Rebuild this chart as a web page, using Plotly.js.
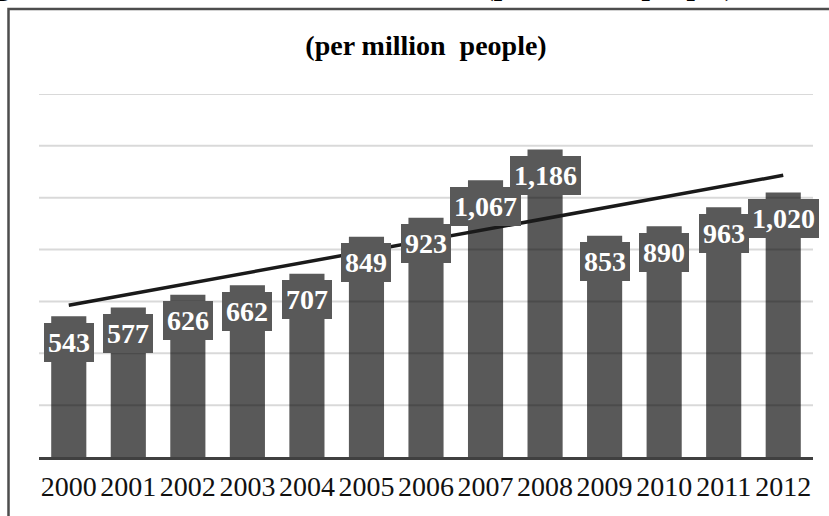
<!DOCTYPE html>
<html>
<head>
<meta charset="utf-8">
<script src="https://cdn.plot.ly/plotly-3.0.1.min.js"></script>
<style>
  html, body { margin: 0; padding: 0; background: #ffffff; }
  #chart { width: 829px; height: 516px; }
</style>
</head>
<body>
<div id="chart"></div>
<script>
// Researchers in R&D in China, per million people
const years = ['2000', '2001', '2002', '2003', '2004', '2005', '2006',
               '2007', '2008', '2009', '2010', '2011', '2012'];
const researchers = [543, 577, 626, 662, 707, 849, 923, 1067, 1186, 853, 890, 963, 1020];

const headerText = 'Figure 5: Researchers in R&D in China (per million people), 2000-2012';
const subTitle = '(per million\u00a0\u00a0people)';

const yMax = 1400;
const gridStep = 200;

// thousands separator for the value labels
function fmt(v) {
  return String(v).replace(/\B(?=(\d{3})+(?!\d))/g, ',');
}

// least-squares linear trend over the year index
function linearTrend(vals) {
  const n = vals.length;
  const mx = (n - 1) / 2;
  const my = vals.reduce((a, b) => a + b, 0) / n;
  let sxy = 0, sxx = 0;
  vals.forEach((v, i) => { sxy += (i - mx) * (v - my); sxx += (i - mx) * (i - mx); });
  const slope = sxy / sxx;
  return vals.map((_, i) => my + slope * (i - mx));
}
const trend = linearTrend(researchers);

const serif = '"Liberation Serif", "Times New Roman", serif';

const bars = {
  type: 'bar',
  x: years,
  y: researchers,
  marker: { color: '#595959', line: { width: 0 } },
  hoverinfo: 'x+y'
};

const trendLine = {
  type: 'scatter',
  mode: 'lines',
  x: years,
  y: trend,
  line: { color: '#1a1a1a', width: 3.5 },
  hoverinfo: 'skip'
};

// value boxes sit just under the top of each bar (x given as category index)
const valueLabels = years.map((yr, i) => ({
  x: i,
  y: researchers[i],
  xref: 'x',
  yref: 'y',
  text: '<b>' + fmt(researchers[i]) + '</b>',
  showarrow: false,
  yanchor: 'middle',
  xanchor: 'center',
  yshift: -26,
  bgcolor: '#595959',
  borderpad: 4,
  borderwidth: 0,
  font: { family: serif, size: 28, color: '#ffffff' }
}));

const header = {
  xref: 'paper', yref: 'paper',
  x: 0.4987, y: 1.248,
  xanchor: 'center', yanchor: 'bottom',
  text: '<b>' + headerText + '</b>',
  showarrow: false,
  font: { family: serif, size: 30, color: '#000000' }
};

// translucent horizontal gridlines drawn over the bars
const gridShapes = [];
for (let v = gridStep; v <= yMax; v += gridStep) {
  gridShapes.push({
    type: 'line',
    xref: 'paper', yref: 'y',
    x0: 0, x1: 1, y0: v, y1: v,
    line: { color: 'rgba(0,0,0,0.15)', width: 2 },
    layer: 'above'
  });
}

const frame = {
  type: 'rect',
  xref: 'paper', yref: 'paper',
  x0: -0.0394, x1: 1.2,
  y0: -0.4, y1: 1.2342,
  line: { color: '#4d4d4d', width: 2.5 },
  fillcolor: 'rgba(0,0,0,0)',
  layer: 'below'
};

const layout = {
  width: 829,
  height: 516,
  margin: { l: 39, r: 16, t: 94, b: 59 },
  paper_bgcolor: '#ffffff',
  plot_bgcolor: '#ffffff',
  showlegend: false,
  bargap: 0.41,
  title: {
    text: '<b>' + subTitle + '</b>',
    xref: 'paper', x: 0.5, xanchor: 'center',
    yref: 'container', y: 0.9124, yanchor: 'middle',
    font: { family: serif, size: 28, color: '#000000' }
  },
  xaxis: {
    type: 'category',
    range: [-0.5, years.length - 0.5],
    showgrid: false,
    showline: true,
    linecolor: '#404040',
    linewidth: 3,
    ticks: '',
    ticklabelstandoff: 2,
    tickfont: { family: serif, size: 28, color: '#111111' },
    fixedrange: true
  },
  yaxis: {
    range: [0, yMax],
    dtick: gridStep,
    showgrid: false,
    zeroline: false,
    showticklabels: false,
    ticks: '',
    fixedrange: true
  },
  shapes: [frame].concat(gridShapes),
  annotations: [header].concat(valueLabels)
};

Plotly.newPlot('chart', [bars, trendLine], layout, { displayModeBar: false, staticPlot: true });
</script>
</body>
</html>
